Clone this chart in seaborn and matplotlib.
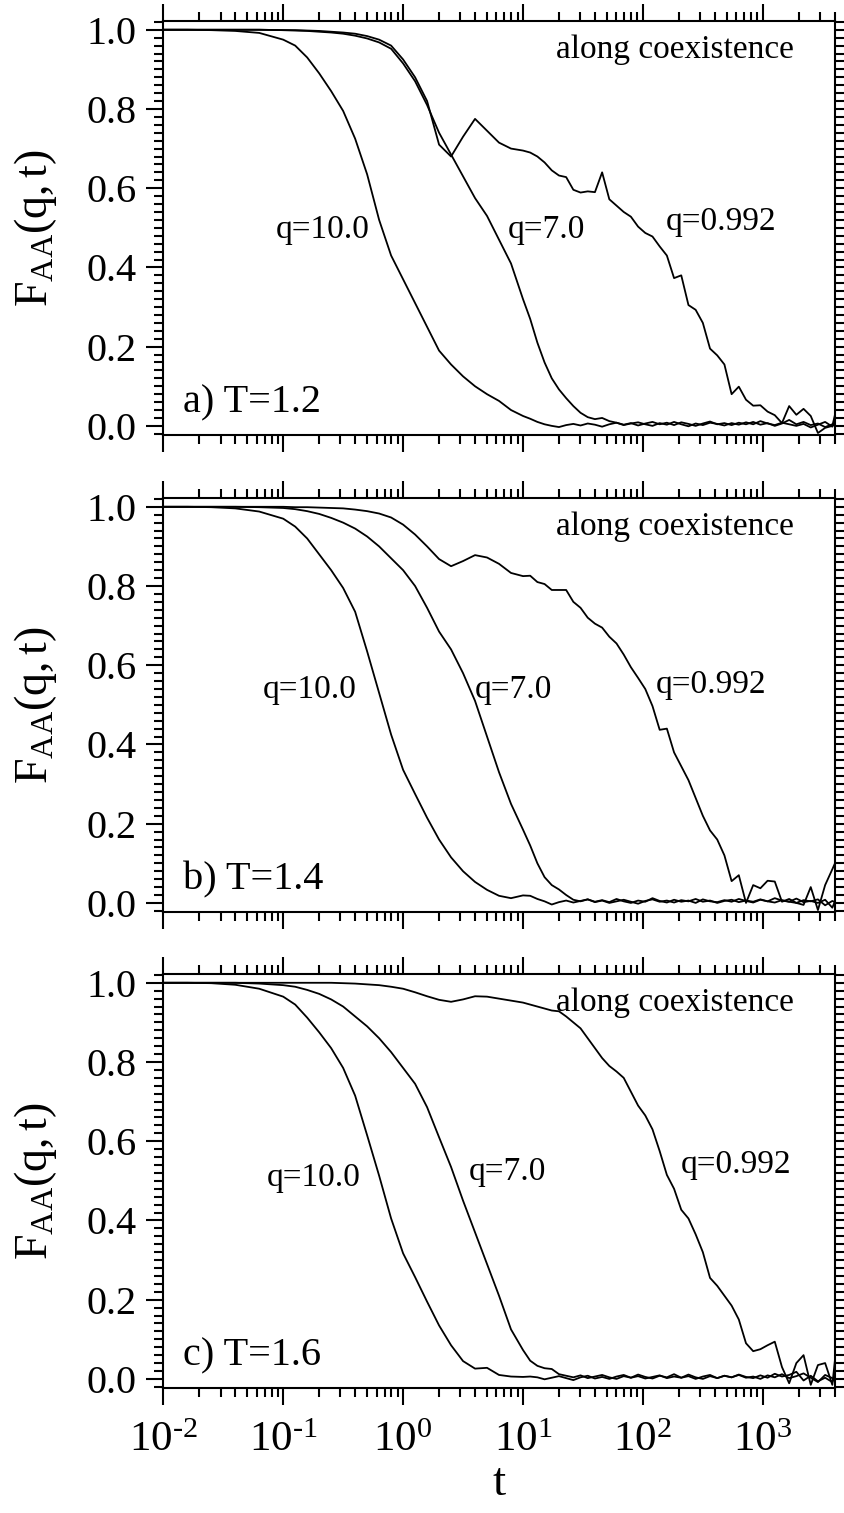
import numpy as np
import pandas as pd
import matplotlib
matplotlib.use("Agg")
import matplotlib.pyplot as plt
import matplotlib.ticker as mticker
import seaborn as sns

# log10 of the sampled times
lg_t = [-2.0, -1.8, -1.6, -1.4, -1.2,
        -1.0, -0.9, -0.8, -0.7, -0.6, -0.5, -0.4, -0.3, -0.2, -0.1,
        0.0, 0.1, 0.2, 0.3, 0.4, 0.5, 0.6, 0.7, 0.8, 0.9, 1.0,
        1.06, 1.12, 1.18, 1.24, 1.30, 1.36, 1.42, 1.48, 1.54, 1.60,
        1.66, 1.72, 1.78, 1.84, 1.90, 1.96, 2.02, 2.08, 2.14, 2.20,
        2.26, 2.32, 2.38, 2.44, 2.50, 2.56, 2.62, 2.68, 2.74, 2.80,
        2.86, 2.92, 2.98, 3.04, 3.10, 3.16, 3.22, 3.28, 3.34, 3.40,
        3.46, 3.52, 3.58, 3.602]

# a) T=1.2
q10_a = [1.0, 1.0, 0.999, 0.997, 0.992,
         0.975, 0.96, 0.93, 0.89, 0.845, 0.795, 0.725, 0.635, 0.52, 0.43,
         0.37, 0.31, 0.25, 0.19, 0.155, 0.125, 0.10, 0.08, 0.063, 0.04, 0.025,
         0.018, 0.01, 0.004, 0.0, -0.003, 0.002, 0.005, 0.001, 0.006, 0.003,
         -0.002, 0.004, 0.008, 0.002, 0.006, 0.009, 0.004, 0.0, 0.007, 0.003,
         0.010, 0.004, -0.001, 0.006, 0.002, 0.008, 0.005, 0.001, 0.007, 0.003,
         0.009, 0.004, 0.012, 0.006, 0.002, 0.008, 0.004, 0.0, 0.005, -0.004,
         0.003, 0.010, -0.002, 0.012]
q7_a = [1.0, 1.0, 1.0, 1.0, 1.0,
        0.999, 0.998, 0.997, 0.995, 0.993, 0.99, 0.985, 0.978, 0.968, 0.952,
        0.915, 0.87, 0.81, 0.74, 0.685, 0.63, 0.575, 0.53, 0.47, 0.41, 0.32,
        0.27, 0.21, 0.16, 0.12, 0.092, 0.07, 0.05, 0.033, 0.022, 0.017,
        0.02, 0.012, 0.008, 0.003, 0.007, 0.001, 0.006, 0.010, 0.004, 0.008,
        0.002, 0.009, 0.005, 0.0, 0.006, 0.011, 0.004, 0.007, 0.002, 0.008,
        0.004, 0.010, 0.003, 0.007, 0.0, 0.006, 0.015, 0.004, 0.010, 0.002,
        0.006, -0.003, 0.004, 0.0]
q0992_a = [1.0, 1.0, 1.0, 1.0, 1.0,
           0.999, 0.999, 0.998, 0.997, 0.995, 0.993, 0.99, 0.984, 0.975, 0.96,
           0.925, 0.88, 0.82, 0.71, 0.68, 0.73, 0.775, 0.745, 0.715, 0.70, 0.695,
           0.69, 0.68, 0.665, 0.645, 0.632, 0.628, 0.596, 0.589, 0.592, 0.59,
           0.64, 0.572, 0.556, 0.54, 0.528, 0.503, 0.487, 0.478, 0.453, 0.43,
           0.373, 0.38, 0.305, 0.293, 0.26, 0.195, 0.178, 0.155, 0.08, 0.099,
           0.066, 0.051, 0.052, 0.036, 0.027, 0.007, 0.05, 0.028, 0.043, 0.025,
           -0.018, -0.005, 0.0, 0.028]

# b) T=1.4
q10_b = [1.0, 1.0, 0.999, 0.996, 0.988,
         0.97, 0.95, 0.92, 0.88, 0.84, 0.795, 0.735, 0.635, 0.53, 0.425,
         0.336, 0.275, 0.215, 0.16, 0.115, 0.08, 0.053, 0.033, 0.018, 0.012, 0.019,
         0.018, 0.01, 0.004, -0.004, 0.002, 0.006, 0.001, 0.005, 0.009, 0.002,
         0.006, 0.0, 0.004, 0.008, 0.003, -0.002, 0.005, 0.009, 0.003, 0.006,
         0.001, 0.007, 0.004, 0.010, 0.003, 0.006, 0.0, 0.005, 0.008, 0.002,
         0.006, 0.003, 0.009, 0.004, 0.001, 0.007, 0.003, 0.011, 0.002, 0.005,
         0.0, 0.008, -0.012, 0.004]
q7_b = [1.0, 1.0, 1.0, 1.0, 0.999,
        0.997, 0.994, 0.989, 0.982, 0.972, 0.96, 0.945, 0.925, 0.90, 0.87,
        0.84, 0.80, 0.745, 0.685, 0.64, 0.58, 0.51, 0.42, 0.33, 0.25, 0.185,
        0.145, 0.10, 0.065, 0.045, 0.034, 0.02, 0.008, 0.004, 0.009, 0.003,
        0.007, 0.002, 0.010, 0.004, 0.0, 0.006, 0.003, 0.012, 0.005, 0.001,
        0.008, 0.003, 0.006, 0.0, 0.009, 0.004, 0.002, 0.007, 0.003, 0.010,
        0.005, 0.001, 0.008, 0.004, 0.012, 0.006, 0.003, 0.0, 0.007, 0.004,
        0.009, -0.006, 0.005, 0.002]
q0992_b = [1.0, 1.0, 1.0, 1.0, 1.0,
           1.0, 0.999, 0.999, 0.998, 0.997, 0.996, 0.993, 0.989, 0.983, 0.973,
           0.955, 0.93, 0.90, 0.868, 0.85, 0.863, 0.878, 0.872, 0.856, 0.833, 0.825,
           0.826, 0.81, 0.805, 0.79, 0.79, 0.79, 0.76, 0.745, 0.72, 0.705,
           0.695, 0.672, 0.655, 0.627, 0.595, 0.568, 0.54, 0.497, 0.437, 0.44,
           0.38, 0.345, 0.31, 0.265, 0.22, 0.183, 0.16, 0.12, 0.055, 0.07,
           0.0, 0.045, 0.037, 0.056, 0.054, 0.003, 0.01, 0.0, -0.005, 0.04,
           -0.018, 0.045, 0.085, 0.10]

# c) T=1.6
q10_c = [1.0, 1.0, 0.999, 0.995, 0.985,
         0.965, 0.945, 0.912, 0.875, 0.835, 0.785, 0.715, 0.615, 0.513, 0.405,
         0.317, 0.257, 0.195, 0.135, 0.085, 0.045, 0.026, 0.028, 0.010, 0.006, 0.005,
         0.006, 0.004, -0.001, 0.003, 0.007, 0.002, -0.003, 0.004, 0.008, 0.001,
         0.005, 0.0, 0.006, 0.010, 0.003, 0.007, 0.001, 0.005, 0.009, 0.002,
         0.006, 0.003, 0.011, 0.004, 0.0, 0.007, 0.002, 0.008, 0.004, 0.010,
         0.003, 0.006, 0.0, 0.009, 0.004, 0.012, 0.002, 0.007, 0.014, 0.003,
         -0.008, 0.010, 0.002, -0.005]
q7_c = [1.0, 1.0, 1.0, 1.0, 0.998,
        0.994, 0.99, 0.982, 0.972, 0.958, 0.94, 0.915, 0.89, 0.86, 0.825,
        0.785, 0.745, 0.686, 0.61, 0.535, 0.45, 0.37, 0.29, 0.21, 0.125, 0.073,
        0.046, 0.033, 0.027, 0.025, 0.012, 0.008, 0.004, 0.009, 0.002, 0.006,
        0.010, 0.004, 0.0, 0.007, 0.003, 0.011, 0.005, 0.001, 0.008, 0.004,
        0.012, 0.003, 0.007, 0.0, 0.006, 0.010, 0.002, 0.008, 0.004, 0.011,
        0.005, 0.002, 0.009, 0.003, 0.013, 0.006, 0.010, 0.018, -0.004, 0.008,
        -0.006, 0.003, -0.008, 0.01]
q0992_c = [1.0, 1.0, 1.0, 1.0, 1.0,
           1.0, 1.0, 1.0, 1.0, 1.0, 0.999, 0.998, 0.996, 0.994, 0.99,
           0.985, 0.976, 0.966, 0.957, 0.952, 0.958, 0.966, 0.965, 0.96, 0.955, 0.95,
           0.945, 0.94, 0.935, 0.93, 0.928, 0.915, 0.90, 0.885, 0.86, 0.835,
           0.81, 0.79, 0.776, 0.76, 0.725, 0.69, 0.665, 0.63, 0.575, 0.515,
           0.48, 0.427, 0.405, 0.365, 0.32, 0.255, 0.235, 0.21, 0.185, 0.15,
           0.09, 0.07, 0.075, 0.085, 0.094, 0.03, -0.011, 0.04, 0.06, -0.015,
           0.035, 0.04, -0.015, 0.048]

q_names = ["q=10.0", "q=7.0", "q=0.992"]
panel_titles = ["a) T=1.2", "b) T=1.4", "c) T=1.6"]
panel_data = [[q10_a, q7_a, q0992_a],
              [q10_b, q7_b, q0992_b],
              [q10_c, q7_c, q0992_c]]

# curve label positions (t, F) for each panel
label_pos = [[(0.212, 0.475), (15.8, 0.475), (445, 0.495)],
             [(0.167, 0.518), (8.37, 0.518), (367, 0.530)],
             [(0.180, 0.487), (7.46, 0.503), (593, 0.520)]]

sns.set_theme(style="ticks")
plt.rcParams["font.family"] = ["Liberation Serif", "DejaVu Serif"]
plt.rcParams["mathtext.fontset"] = "custom"
plt.rcParams["mathtext.rm"] = "Liberation Serif"
plt.rcParams["mathtext.it"] = "Liberation Serif:italic"
plt.rcParams["axes.linewidth"] = 1.5
for key in ["text.color", "axes.labelcolor", "xtick.color", "ytick.color", "axes.edgecolor"]:
    plt.rcParams[key] = "black"


def log_label(x, pos):
    e = int(round(np.log10(x)))
    return r"$\mathrm{10}^{\mathrm{%s}}$" % (str(e).replace("-", r"\text{-}"))


t = 10 ** np.array(lg_t)

fig = plt.figure(figsize=(8.44, 15.13), dpi=100)
left, width, height = 0.1935, 0.7958, 0.2736
bottoms = [0.7125, 0.3972, 0.0826]

for i in range(3):
    ax = fig.add_axes([left, bottoms[i], width, height])
    rows = []
    for name, vals in zip(q_names, panel_data[i]):
        rows.append(pd.DataFrame({"t": t, "F": vals, "q": name}))
    df = pd.concat(rows, ignore_index=True)
    sns.lineplot(data=df, x="t", y="F", units="q", estimator=None,
                 color="black", lw=1.3, ax=ax, sort=False)

    ax.set_xscale("log")
    ax.set_xlim(0.01, 4000)
    ax.set_ylim(-0.023, 1.022)
    ax.yaxis.set_major_locator(mticker.MultipleLocator(0.2))
    ax.yaxis.set_minor_locator(mticker.MultipleLocator(0.02))
    ax.yaxis.set_major_formatter(mticker.FormatStrFormatter("%.1f"))
    ax.xaxis.set_major_locator(mticker.LogLocator(base=10, numticks=20))
    ax.xaxis.set_minor_locator(mticker.LogLocator(base=10, subs=np.arange(2, 10), numticks=20))
    ax.xaxis.set_major_formatter(mticker.FuncFormatter(log_label))
    ax.xaxis.set_minor_formatter(mticker.NullFormatter())
    ax.tick_params(which="both", direction="out", top=True, right=True,
                   width=1.5, labelsize=29, colors="black")
    ax.tick_params(which="major", length=12, pad=7)
    ax.tick_params(which="minor", length=6.5)
    ax.tick_params(axis="x", which="major", pad=12, labelsize=31)
    for s in ax.spines.values():
        s.set_color("black")
        s.set_linewidth(1.5)

    ax.set_ylabel(r"$\mathrm{F_{AA}(q,t)}$", fontsize=33)
    ax.yaxis.set_label_coords(-0.155, 0.5)
    if i < 2:
        ax.set_xlabel("")
        ax.tick_params(axis="x", labelbottom=False)
    else:
        ax.set_xlabel("t", fontsize=34, labelpad=2)

    ax.text(0.762, 0.91, "along coexistence", transform=ax.transAxes,
            ha="center", va="baseline", fontsize=24)
    ax.text(0.03, 0.055, panel_titles[i], transform=ax.transAxes,
            ha="left", va="baseline", fontsize=29)
    for name, (xp, yp) in zip(q_names, label_pos[i]):
        ax.text(xp, yp, name, ha="center", va="baseline", fontsize=24)

fig.savefig("out.png", dpi=100)
